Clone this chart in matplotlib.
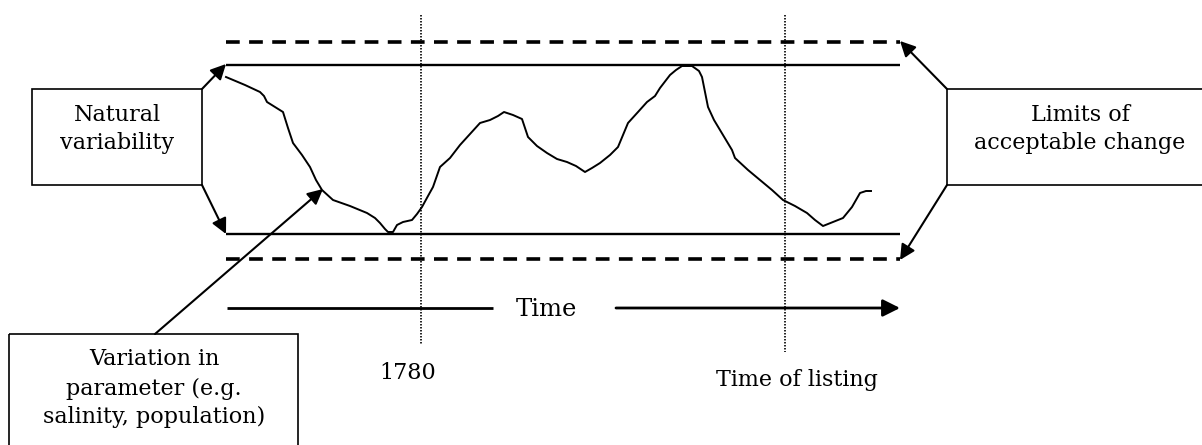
import matplotlib
matplotlib.use("Agg")
import matplotlib.pyplot as plt
from matplotlib.patches import FancyArrowPatch, Rectangle

# diagram drawn in pixel-like units (x to the right, y downwards)
curve_x = [226, 245, 260, 264, 267, 275, 283, 288, 293, 302, 310, 316, 322, 333,
           350, 367, 375, 380, 385, 388, 393, 397, 403, 412, 417, 422, 428, 433,
           440, 450, 460, 470, 480, 490, 498, 504, 513, 522, 528, 537, 547, 557,
           567, 576, 585, 592, 600, 610, 618, 628, 638, 647, 655, 660, 670, 676,
           682, 692, 699, 702, 705, 708, 714, 720, 732, 735, 748, 760, 772, 783,
           795, 807, 815, 823, 833, 843, 852, 860, 866, 871]
curve_y = [77, 85, 92, 96, 102, 107, 112, 128, 143, 155, 167, 180, 190, 200,
           206, 213, 218, 223, 229, 232, 232, 225, 222, 220, 214, 207, 196, 187,
           167, 158, 145, 134, 123, 120, 116, 112, 115, 119, 137, 146, 153, 159,
           162, 166, 172, 168, 163, 155, 147, 123, 112, 102, 96, 88, 75, 70,
           66, 66, 71, 77, 92, 107, 120, 130, 150, 158, 170, 180, 190, 200,
           206, 213, 220, 226, 222, 218, 207, 193, 191, 191]

band_start, band_end = 226, 900
natural_limits = [65, 234]
acceptable_limits = [42, 259]

marker_x = [421, 785]
marker_top = [15, 15]
marker_bottom = [345, 352]
marker_labels = ["1780", "Time of listing"]
marker_label_x = [408, 797]
marker_label_y = [373, 380]

FONT = "DejaVu Serif"
FS = 16

fig = plt.figure(figsize=(12.02, 4.45), dpi=100)
ax = fig.add_axes([0, 0, 1, 1])
ax.set_xlim(0, 1202)
ax.set_ylim(445, 0)
ax.axis("off")

# limit lines
for y in natural_limits:
    ax.plot([band_start, band_end], [y, y], color="black", lw=1.7, solid_capstyle="butt")
for y in acceptable_limits:
    ax.plot([band_start, band_end], [y, y], color="black", lw=2.6,
            linestyle=(0, (3.8, 2.6)), dash_capstyle="butt")

# parameter curve
ax.plot(curve_x, curve_y, color="black", lw=1.4)

# dotted time markers
for x, y0, y1 in zip(marker_x, marker_top, marker_bottom):
    ax.plot([x, x], [y0, y1], color="black", lw=1.2, linestyle=(0, (0.9, 0.9)))
for x, y, lab in zip(marker_label_x, marker_label_y, marker_labels):
    ax.text(x, y, lab, ha="center", va="center", family=FONT, fontsize=FS)

# time arrow
ax.plot([227, 493], [308, 308], color="black", lw=2.0, solid_capstyle="butt")
ax.add_patch(FancyArrowPatch((616, 308), (900, 308), arrowstyle="-|>", mutation_scale=26,
                             color="black", lw=2.0, shrinkA=0, shrinkB=0))
ax.text(546, 309, "Time", ha="center", va="center", family=FONT, fontsize=17.5)


def arrow(p0, p1):
    ax.add_patch(FancyArrowPatch(p0, p1, arrowstyle="-|>", mutation_scale=23,
                                 color="black", lw=1.5, shrinkA=0, shrinkB=0))


# boxes
ax.add_patch(Rectangle((32, 89), 170, 96, fill=False, lw=1.2, ec="black"))
ax.text(117, 115, "Natural", ha="center", va="center", family=FONT, fontsize=FS)
ax.text(117, 143, "variability", ha="center", va="center", family=FONT, fontsize=FS)
arrow((202, 89), (226, 64))
arrow((202, 185), (226, 234))

ax.add_patch(Rectangle((947, 89), 270, 96, fill=False, lw=1.2, ec="black"))
ax.text(1080, 115, "Limits of", ha="center", va="center", family=FONT, fontsize=FS)
ax.text(1080, 143, "acceptable change", ha="center", va="center", family=FONT, fontsize=FS)
arrow((947, 89), (900, 41))
arrow((947, 185), (900, 260))

ax.add_patch(Rectangle((9, 334), 289, 130, fill=False, lw=1.2, ec="black"))
ax.text(154, 359, "Variation in", ha="center", va="center", family=FONT, fontsize=FS)
ax.text(154, 389, "parameter (e.g.", ha="center", va="center", family=FONT, fontsize=FS)
ax.text(154, 417, "salinity, population)", ha="center", va="center", family=FONT, fontsize=FS)
arrow((155, 334), (323, 189))

fig.savefig("out.png", dpi=100)
